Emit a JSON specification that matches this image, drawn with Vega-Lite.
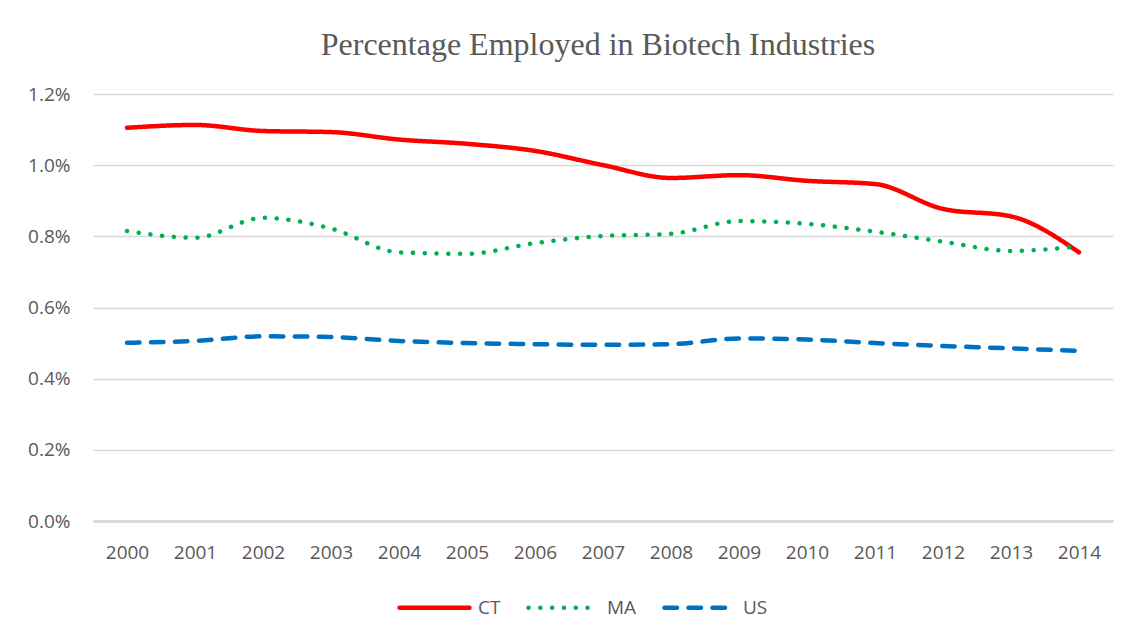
{
  "$schema": "https://vega.github.io/schema/vega-lite/v6.json",
  "width": 1020,
  "height": 427,
  "autosize": {"type": "none"},
  "padding": {"left": 93, "top": 94, "right": 28, "bottom": 121},
  "background": "white",
  "title": {
    "text": "Percentage Employed in Biotech Industries",
    "font": "Liberation Serif",
    "fontSize": 32,
    "fontWeight": "normal",
    "color": "#595959",
    "anchor": "middle",
    "dx": -5,
    "offset": 23
  },
  "data": {
    "values": [
      {"year": "2000", "series": "CT", "value": 0.01105},
      {"year": "2001", "series": "CT", "value": 0.01113},
      {"year": "2002", "series": "CT", "value": 0.01096},
      {"year": "2003", "series": "CT", "value": 0.01093},
      {"year": "2004", "series": "CT", "value": 0.01072},
      {"year": "2005", "series": "CT", "value": 0.01060},
      {"year": "2006", "series": "CT", "value": 0.01040},
      {"year": "2007", "series": "CT", "value": 0.01000},
      {"year": "2008", "series": "CT", "value": 0.00964},
      {"year": "2009", "series": "CT", "value": 0.00972},
      {"year": "2010", "series": "CT", "value": 0.00956},
      {"year": "2011", "series": "CT", "value": 0.00947},
      {"year": "2012", "series": "CT", "value": 0.00877},
      {"year": "2013", "series": "CT", "value": 0.00856},
      {"year": "2014", "series": "CT", "value": 0.00755},
      {"year": "2000", "series": "MA", "value": 0.00815},
      {"year": "2001", "series": "MA", "value": 0.00796},
      {"year": "2002", "series": "MA", "value": 0.00852},
      {"year": "2003", "series": "MA", "value": 0.00822},
      {"year": "2004", "series": "MA", "value": 0.00755},
      {"year": "2005", "series": "MA", "value": 0.00751},
      {"year": "2006", "series": "MA", "value": 0.00781},
      {"year": "2007", "series": "MA", "value": 0.00801},
      {"year": "2008", "series": "MA", "value": 0.00807},
      {"year": "2009", "series": "MA", "value": 0.00843},
      {"year": "2010", "series": "MA", "value": 0.00835},
      {"year": "2011", "series": "MA", "value": 0.00813},
      {"year": "2012", "series": "MA", "value": 0.00785},
      {"year": "2013", "series": "MA", "value": 0.00759},
      {"year": "2014", "series": "MA", "value": 0.00772},
      {"year": "2000", "series": "US", "value": 0.00501},
      {"year": "2001", "series": "US", "value": 0.00506},
      {"year": "2002", "series": "US", "value": 0.00519},
      {"year": "2003", "series": "US", "value": 0.00517},
      {"year": "2004", "series": "US", "value": 0.00506},
      {"year": "2005", "series": "US", "value": 0.00500},
      {"year": "2006", "series": "US", "value": 0.00497},
      {"year": "2007", "series": "US", "value": 0.00495},
      {"year": "2008", "series": "US", "value": 0.00497},
      {"year": "2009", "series": "US", "value": 0.00513},
      {"year": "2010", "series": "US", "value": 0.00510},
      {"year": "2011", "series": "US", "value": 0.00500},
      {"year": "2012", "series": "US", "value": 0.00492},
      {"year": "2013", "series": "US", "value": 0.00485},
      {"year": "2014", "series": "US", "value": 0.00478}
    ]
  },
  "mark": {"type": "line", "strokeWidth": 4.5, "strokeCap": "round", "strokeJoin": "round", "interpolate": "monotone"},
  "encoding": {
    "x": {
      "field": "year",
      "type": "ordinal",
      "scale": {"type": "point", "padding": 0.5},
      "axis": {
        "title": null,
        "labelAngle": 0,
        "ticks": false,
        "domain": true,
        "domainColor": "#d9d9d9",
        "domainWidth": 3,
        "labelPadding": 31,
        "labelBaseline": "middle",
        "grid": false
      }
    },
    "y": {
      "field": "value",
      "type": "quantitative",
      "scale": {"domain": [0, 0.012], "nice": false},
      "axis": {
        "title": null,
        "values": [0, 0.002, 0.004, 0.006, 0.008, 0.010, 0.012],
        "format": ".1%",
        "ticks": false,
        "domain": false,
        "grid": true,
        "gridColor": "#d9d9d9",
        "gridWidth": 1.3,
        "labelPadding": 23
      }
    },
    "color": {
      "field": "series",
      "type": "nominal",
      "scale": {"domain": ["CT", "MA", "US"], "range": ["#ff0000", "#00b050", "#0070c0"]},
      "legend": {
        "title": null,
        "orient": "none",
        "direction": "horizontal",
        "legendX": 304,
        "legendY": 476,
        "symbolType": "stroke",
        "symbolSize": 4900,
        "symbolStrokeWidth": 4.5,
        "labelOffset": 6,
        "columnPadding": 18,
        "labelFontSize": 19,
        "encode": {"symbols": {"update": {"strokeCap": {"value": "round"}}}}
      }
    },
    "strokeDash": {
      "field": "series",
      "type": "nominal",
      "scale": {"domain": ["CT", "MA", "US"], "range": [[1, 0], [0.1, 11.7], [12.5, 11.5]]},
      "legend": {
        "title": null,
        "orient": "none",
        "direction": "horizontal",
        "legendX": 304,
        "legendY": 476,
        "symbolType": "stroke",
        "symbolSize": 4900,
        "symbolStrokeWidth": 4.5,
        "labelOffset": 6,
        "columnPadding": 18,
        "labelFontSize": 19,
        "encode": {"symbols": {"update": {"strokeCap": {"value": "round"}}}}
      }
    }
  },
  "config": {
    "font": "Open Sans",
    "view": {"stroke": null},
    "axis": {"labelFont": "Open Sans", "labelFontSize": 19, "labelColor": "#595959"},
    "legend": {"labelFont": "Open Sans", "labelColor": "#595959", "labelFontSize": 19}
  }
}
